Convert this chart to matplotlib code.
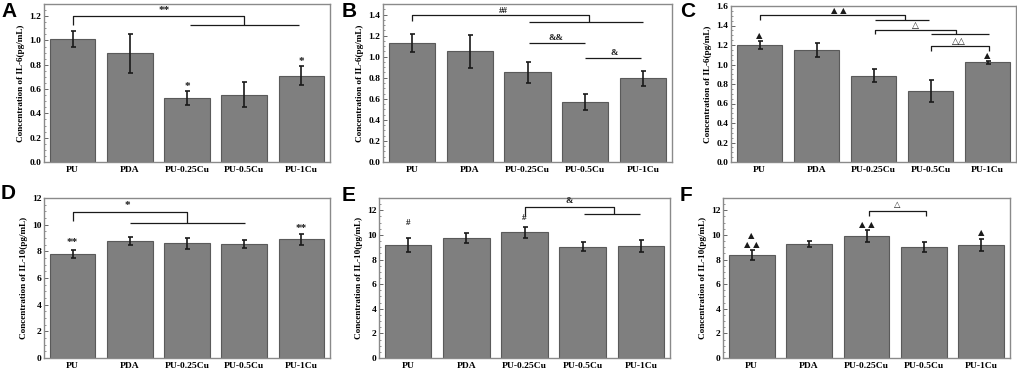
import matplotlib
matplotlib.use("Agg")
import matplotlib.pyplot as plt
import numpy as np

groups = ["PU", "PDA", "PU-0.25Cu", "PU-0.5Cu", "PU-1Cu"]

il6_a = [1.01, 0.895, 0.525, 0.555, 0.71]
il6_a_err = [0.065, 0.16, 0.06, 0.10, 0.08]
il6_b = [1.133, 1.05, 0.85, 0.568, 0.795]
il6_b_err = [0.085, 0.155, 0.097, 0.078, 0.07]
il6_c = [1.20, 1.15, 0.885, 0.73, 1.025]
il6_c_err = [0.04, 0.068, 0.065, 0.11, 0.015]
il10_d = [7.83, 8.77, 8.6, 8.55, 8.9]
il10_d_err = [0.3, 0.33, 0.42, 0.32, 0.4]
il10_e = [9.22, 9.75, 10.2, 9.05, 9.1]
il10_e_err = [0.57, 0.4, 0.45, 0.35, 0.45]
il10_f = [8.35, 9.29, 9.92, 9.02, 9.17]
il10_f_err = [0.42, 0.25, 0.47, 0.4, 0.5]

W, H = 1017, 370
fig = plt.figure(figsize=(W / 100, H / 100), dpi=100)

SERIF = ["Liberation Serif", "DejaVu Sans"]
BLACK = "#1a1a1a"


def px_axes(x0, x1, top, bottom):
    return fig.add_axes([x0 / W, (H - bottom) / H, (x1 - x0) / W, (bottom - top) / H])


def bar_panel(ax, vals, errs, ylim, yticks, ylabel, fmt):
    x = np.arange(len(groups))
    ax.bar(x, vals, width=0.8, color="#7f7f7f", edgecolor="#5a5a5a", linewidth=0.8)
    ax.errorbar(x, vals, yerr=errs, fmt="none", ecolor=BLACK, elinewidth=1.2,
                capsize=1.8, capthick=1.2)
    ax.set_xlim(-0.5, 4.5)
    ax.set_ylim(*ylim)
    ax.set_xticks(x)
    ax.set_xticklabels(groups, fontfamily=SERIF, fontweight="bold", fontsize=6.8)
    ax.set_yticks(yticks)
    ax.set_yticklabels([fmt.format(t) for t in yticks], fontfamily=SERIF,
                       fontweight="bold", fontsize=6.8)
    ax.set_ylabel(ylabel, fontfamily=SERIF, fontweight="bold", fontsize=6.6, labelpad=3)
    ax.tick_params(axis="x", length=0, pad=3)
    ax.tick_params(axis="y", direction="in", length=3, width=0.7, pad=2, color="#666666")
    ax.minorticks_on()
    ax.tick_params(axis="x", which="minor", bottom=False)
    ax.tick_params(axis="y", which="minor", direction="in", length=1.6, width=0.5, color="#666666")
    for s in ax.spines.values():
        s.set_color("#8a8a8a")
        s.set_linewidth(1.0)


def lines(ax, pts):
    xs, ys = zip(*pts)
    ax.plot(xs, ys, color=BLACK, lw=0.9, solid_capstyle="butt", clip_on=False)


def mark(ax, x, y, s, size=7):
    ax.text(x, y, s, ha="center", va="center", fontsize=size, fontfamily=SERIF,
            fontweight="bold", color=BLACK)


def tri(ax, x, y, s, size=6):
    ax.text(x, y, s, ha="center", va="center", fontsize=size, fontfamily="DejaVu Sans",
            color=BLACK)


def panel_letter(x, y, s):
    fig.text(x / W, 1 - y / H, s, fontsize=15, fontweight="bold",
             fontfamily="Liberation Sans", ha="left", va="top")


# A
ax = px_axes(44, 330, 4, 162)
bar_panel(ax, il6_a, il6_a_err, (0, 1.3), np.arange(0, 1.21, 0.2),
          "Concentration of IL-6(pg/mL)", "{:.1f}")
lines(ax, [(0, 1.13), (0, 1.205), (3.0, 1.205), (3.0, 1.13)])
lines(ax, [(2.05, 1.13), (3.95, 1.13)])
mark(ax, 1.6, 1.25, "**", 8)
mark(ax, 2, 0.625, "*", 8)
mark(ax, 4, 0.83, "*", 8)

# B
ax = px_axes(383, 672, 4, 162)
bar_panel(ax, il6_b, il6_b_err, (0, 1.5), np.arange(0, 1.41, 0.2),
          "Concentration of IL-6(pg/mL)", "{:.1f}")
lines(ax, [(0, 1.343), (0, 1.394), (3.06, 1.394), (3.06, 1.327)])
lines(ax, [(2.02, 1.327), (4.0, 1.327)])
mark(ax, 1.58, 1.43, "##", 6.5)
lines(ax, [(2.02, 1.131), (3.0, 1.131)])
mark(ax, 2.5, 1.18, "&&", 6.5)
lines(ax, [(3.0, 0.988), (3.97, 0.988)])
mark(ax, 3.5, 1.036, "&", 6.5)

# C
ax = px_axes(731, 1016, 6, 162)
bar_panel(ax, il6_c, il6_c_err, (0, 1.6), np.arange(0, 1.61, 0.2),
          "Concentration of IL-6(pg/mL)", "{:.1f}")
lines(ax, [(0, 1.455), (0, 1.503), (2.56, 1.503), (2.56, 1.46)])
lines(ax, [(2.02, 1.46), (2.98, 1.46)])
tri(ax, 1.4, 1.555, "▲ ▲")
lines(ax, [(2.02, 1.308), (2.02, 1.353), (3.45, 1.353), (3.45, 1.308)])
lines(ax, [(3.01, 1.308), (4.02, 1.308)])
tri(ax, 2.73, 1.404, "△", 6.5)
lines(ax, [(3.0, 1.137), (3.0, 1.188), (4.02, 1.188), (4.02, 1.137)])
tri(ax, 3.5, 1.235, "△△", 6.5)
tri(ax, 0, 1.295, "▲")
tri(ax, 4, 1.09, "▲")

# D
ax = px_axes(44, 330, 198, 358)
bar_panel(ax, il10_d, il10_d_err, (0, 12), np.arange(0, 12.1, 2),
          "Concentration of IL-10(pg/mL)", "{:.0f}")
lines(ax, [(0, 10.25), (0, 10.95), (2.0, 10.95), (2.0, 10.15)])
lines(ax, [(1.0, 10.15), (3.01, 10.15)])
mark(ax, 0.95, 11.45, "*", 8)
mark(ax, 0, 8.65, "**", 8)
mark(ax, 4, 9.75, "**", 8)

# E
ax = px_axes(379, 670, 198, 358)
bar_panel(ax, il10_e, il10_e_err, (0, 13), np.arange(0, 12.1, 2),
          "Concentration of IL-10(pg/mL)", "{:.0f}")
lines(ax, [(2.0, 11.54), (2.0, 12.3), (3.53, 12.3), (3.53, 11.67)])
lines(ax, [(3.02, 11.67), (3.99, 11.67)])
mark(ax, 2.77, 12.76, "&", 6.5)
mark(ax, 0, 10.95, "#", 6.5)
mark(ax, 2, 11.35, "#", 6.5)

# F
ax = px_axes(723, 1010, 198, 358)
bar_panel(ax, il10_f, il10_f_err, (0, 13), np.arange(0, 12.1, 2),
          "Concentration of IL-10(pg/mL)", "{:.0f}")
lines(ax, [(2.04, 11.54), (2.04, 11.95), (3.04, 11.95), (3.04, 11.54)])
tri(ax, 2.53, 12.44, "△", 6)
tri(ax, 0, 9.98, "▲")
tri(ax, 0, 9.25, "▲ ▲")
tri(ax, 2, 10.85, "▲ ▲")
tri(ax, 4, 10.2, "▲")

panel_letter(1, 2, "A")
panel_letter(342, 2, "B")
panel_letter(680, 2, "C")
panel_letter(1, 184, "D")
panel_letter(342, 186, "E")
panel_letter(680, 186, "F")

fig.savefig("out.png", dpi=100)
